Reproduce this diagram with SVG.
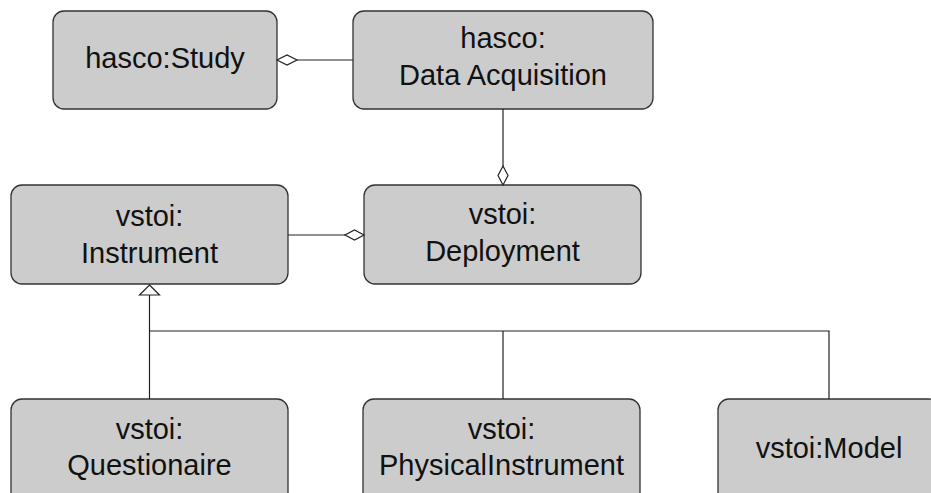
<svg xmlns="http://www.w3.org/2000/svg" width="931" height="493" viewBox="0 0 931 493">
<style>
.box{fill:#cccccc;stroke:#333333;stroke-width:1.3}
.t{font-family:"Liberation Sans",Arial,sans-serif;font-size:29px;fill:#111111;text-anchor:middle}
.c{fill:none;stroke:#222222;stroke-width:1.2}
.dia{fill:#ffffff;stroke:#222222;stroke-width:1.2}
</style>
<rect width="931" height="493" fill="#ffffff"/>
<g id="study"><rect class="box" x="53" y="11" width="224" height="98" rx="11"/><text class="t" x="165" y="68">hasco:Study</text></g>
<g id="dataacq"><rect class="box" x="353" y="11" width="300" height="98" rx="11"/><text class="t" x="503" y="48">hasco:</text><text class="t" x="503" y="85">Data Acquisition</text></g>
<g id="instrument"><rect class="box" x="11" y="185" width="277" height="99" rx="11"/><text class="t" x="149.5" y="226">vstoi:</text><text class="t" x="149.5" y="263">Instrument</text></g>
<g id="deployment"><rect class="box" x="364" y="185" width="277" height="99" rx="11"/><text class="t" x="502.5" y="224">vstoi:</text><text class="t" x="502.5" y="261">Deployment</text></g>
<g id="questionaire"><rect class="box" x="11" y="399" width="277" height="110" rx="11"/><text class="t" x="149.5" y="439">vstoi:</text><text class="t" x="149.5" y="475">Questionaire</text></g>
<g id="physical"><rect class="box" x="363" y="399" width="277" height="110" rx="11"/><text class="t" x="501.5" y="439">vstoi:</text><text class="t" x="501.5" y="475">PhysicalInstrument</text></g>
<g id="model"><rect class="box" x="718" y="399" width="222" height="110" rx="11"/><text class="t" x="829" y="458">vstoi:Model</text></g>
<g id="connectors">
<path class="c" d="M297 60H353"/>
<path class="dia" d="M277 60L287 55L297 60L287 65Z"/>
<path class="c" d="M503 109V166"/>
<path class="dia" d="M503 185L498 175.5L503 166L508 175.5Z"/>
<path class="c" d="M288 235H345"/>
<path class="dia" d="M364 235L354.5 230L345 235L354.5 240Z"/>
<path class="c" d="M149.5 295V399M149.5 331H829V399M503 331V399"/>
<path class="dia" d="M149.5 285L159.5 295H139.5Z"/>
</g>
</svg>
